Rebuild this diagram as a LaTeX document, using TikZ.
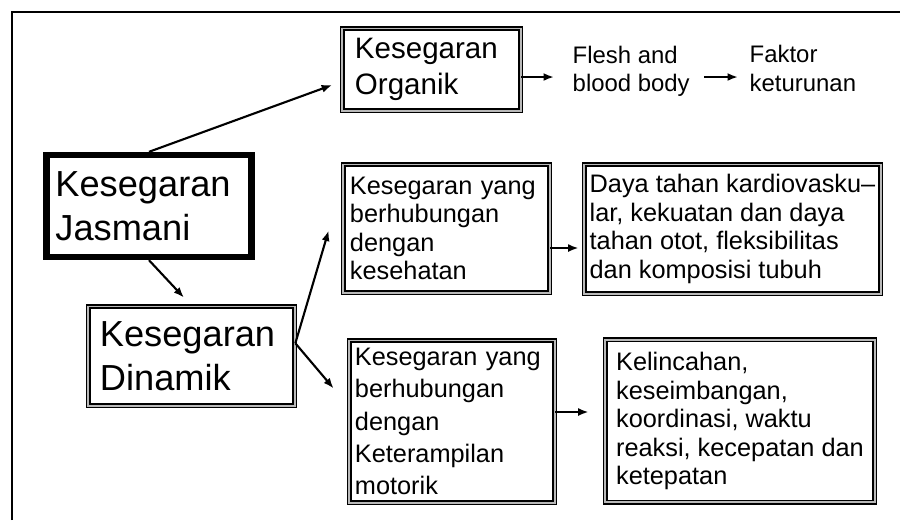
\documentclass[tikz,border=0pt]{standalone}
\usepackage{fontspec}
\setmainfont{Liberation Sans}
\usetikzlibrary{positioning,arrows.meta,calc}
\tikzset{
  flowarrow/.style={-{Latex[length=1.05mm,width=0.8mm]}, line width=0.6pt},
  mainbox/.style={draw, line width=1.8pt, align=left, inner sep=0pt},
  dblbox/.style={draw, line width=0.45pt, double=gray!55, double distance=0.55pt, align=left, inner sep=0pt},
  plaintext/.style={align=left, inner sep=0pt, font=\fontsize{6.8}{8}\selectfont},
  bigtext/.style={font=\fontsize{10.3}{12.4}\selectfont},
  midtext/.style={font=\fontsize{8.4}{10.2}\selectfont},
  smalltext/.style={font=\fontsize{7.2}{8.1}\selectfont}
}
\begin{document}
\begin{tikzpicture}[x=0.01cm, y=-0.01cm]
  \useasboundingbox (0,0) rectangle (900,520);
  \draw[line width=0.7pt] (12,520) -- (12,12) -- (900,12);
  \node[mainbox, bigtext, text width=1.87cm, minimum width=2.05cm, minimum height=1.02cm] (jas) at (149,206) {Kesegaran\\Jasmani};
  \node[dblbox, midtext, text width=1.53cm, minimum width=1.78cm, minimum height=0.82cm] (org) at (431.5,69.5) {Kesegaran\\Organik};
  \node[plaintext, anchor=west] (flesh) at (572,71) {Flesh and\\blood body};
  \node[plaintext, anchor=west] (fak) at (749,68.5) {Faktor\\keturunan};
  \node[dblbox, bigtext, text width=1.83cm, minimum width=2.06cm, minimum height=0.99cm] (din) at (191.5,356) {Kesegaran\\Dinamik};
  \node[dblbox, smalltext, text width=1.93cm, minimum width=2.06cm, minimum height=1.28cm] (kes) at (446.5,228.5) {Kesegaran yang\\berhubungan\\dengan\\kesehatan};
  \node[dblbox, smalltext, minimum width=2.96cm, minimum height=1.29cm] (daya) at (732.5,229) {Daya tahan kardiovasku--\\lar, kekuatan dan daya\\tahan otot, fleksibilitas\\dan komposisi tubuh};
  \node[dblbox, font=\fontsize{7.2}{9.2}\selectfont, text width=1.94cm, minimum width=2.05cm, minimum height=1.62cm] (mot) at (452,421.5) {Kesegaran yang\\berhubungan\\dengan\\Keterampilan\\motorik};
  \node[dblbox, smalltext, minimum width=2.69cm, minimum height=1.625cm] (kel) at (740,421) {Kelincahan,\\keseimbangan,\\koordinasi, waktu\\reaksi, kecepatan dan\\ketepatan};
  \draw[flowarrow] (jas.north) -- ($(org.west)+(-9.5,15.5)$);
  \draw[flowarrow, shorten >=0.11cm] (jas.south) -- (din.north);
  \draw[flowarrow] ($(org.east)+(0,7.5)$) -- ($(flesh.west)+(-18,6)$);
  \draw[flowarrow] ($(flesh.east)+(14,6)$) -- ($(fak.west)+(-11,8.5)$);
  \draw[flowarrow] (din.7) -- ($(kes.west)+(-14,2)$);
  \draw[flowarrow] (din.7) -- ($(mot.west)+(-15,-33)$);
  \draw[flowarrow] ($(kes.east)+(0,19.5)$) -- ($(daya.west)+(-5,19)$);
  \draw[flowarrow] ($(mot.east)+(0,-9.5)$) -- ($(kel.west)+(-16,-9)$);
\end{tikzpicture}
\end{document}
